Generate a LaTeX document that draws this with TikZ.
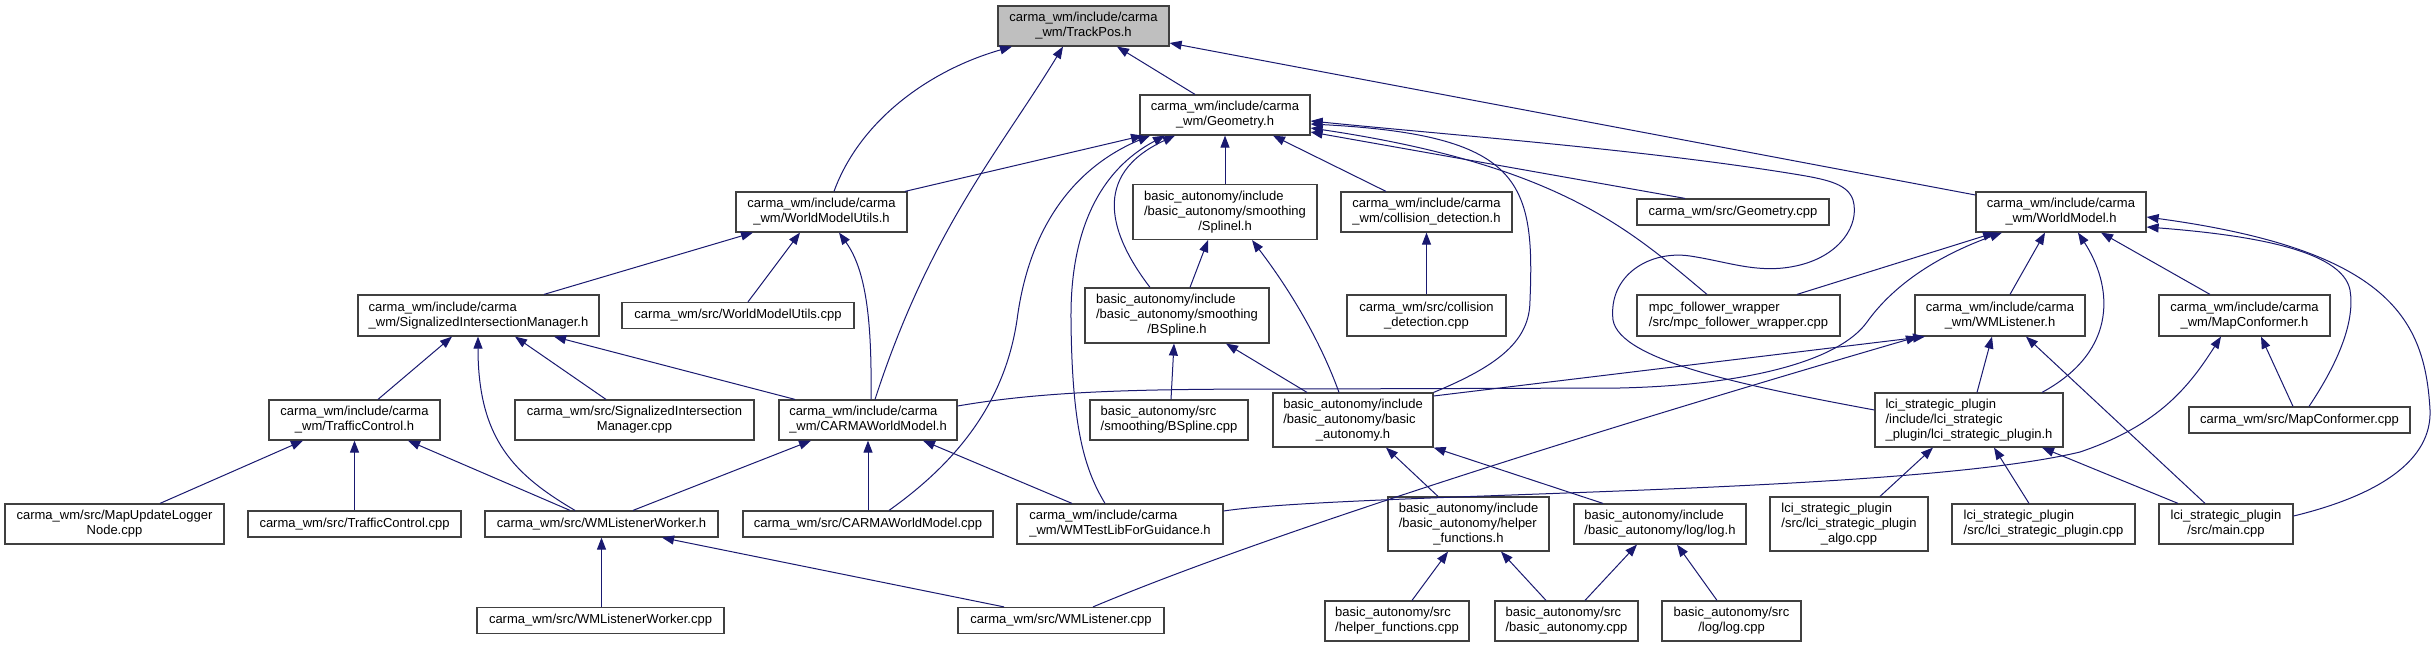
\documentclass[tikz,border=0pt]{standalone}
\usepackage{fontspec}
\setmainfont{Liberation Sans}
\usetikzlibrary{arrows.meta}
\definecolor{edgec}{HTML}{191970}
\definecolor{bord}{HTML}{404040}
\definecolor{hl}{HTML}{BFBFBF}
\newcommand{\mlab}[2]{\begin{tabular}{@{}l@{}}#1\\\multicolumn{1}{@{}c@{}}{#2}\end{tabular}}
\newcommand{\slab}[1]{\begin{tabular}{@{}c@{}}#1\end{tabular}}
\begin{document}
\begin{tikzpicture}[x=1pt,y=-1pt,
 box/.style={draw=bord,line width=1.2pt,fill=white,inner sep=0pt,font=\fontsize{13}{15}\selectfont},
 dep/.style={draw=edgec,line width=1pt,-{Triangle[length=12pt,width=9pt]}}]
\useasboundingbox[fill=white] (0,0) rectangle (2436,647);
% row 0
\node[box,fill=hl,minimum width=171pt,minimum height=40pt] (tp) at (1083.5,26) {\mlab{carma\_wm/include/carma}{\_wm/TrackPos.h}};
\node[box,minimum width=170pt,minimum height=40pt] (geo) at (1225,115) {\mlab{carma\_wm/include/carma}{\_wm/Geometry.h}};
% row 1
\node[box,minimum width=171pt,minimum height=40pt] (wmu) at (821.5,212) {\mlab{carma\_wm/include/carma}{\_wm/WorldModelUtils.h}};
\node[box,minimum width=184pt,minimum height=55pt] (spl) at (1225,212) {\mlab{basic\_autonomy/include\\/basic\_autonomy/smoothing}{/Splinel.h}};
\node[box,minimum width=171pt,minimum height=40pt] (cdh) at (1426.5,212) {\mlab{carma\_wm/include/carma}{\_wm/collision\_detection.h}};
\node[box,minimum width=192pt,minimum height=26pt] (gcpp) at (1733,212) {\slab{carma\_wm/src/Geometry.cpp}};
\node[box,minimum width=170pt,minimum height=40pt] (wm) at (2061,212) {\mlab{carma\_wm/include/carma}{\_wm/WorldModel.h}};
% row 2
\node[box,minimum width=241pt,minimum height=41pt] (sim) at (478.5,315.5) {\mlab{carma\_wm/include/carma}{\_wm/SignalizedIntersectionManager.h}};
\node[box,minimum width=232pt,minimum height=26pt] (wmucpp) at (738,315.5) {\slab{carma\_wm/src/WorldModelUtils.cpp}};
\node[box,minimum width=184pt,minimum height=55pt] (bsh) at (1177,315.5) {\mlab{basic\_autonomy/include\\/basic\_autonomy/smoothing}{/BSpline.h}};
\node[box,minimum width=159pt,minimum height=41pt] (cdcpp) at (1426.5,315.5) {\mlab{carma\_wm/src/collision}{\_detection.cpp}};
\node[box,minimum width=203pt,minimum height=41pt] (mpc) at (1738.5,315.5) {\mlab{mpc\_follower\_wrapper}{/src/mpc\_follower\_wrapper.cpp}};
\node[box,minimum width=170pt,minimum height=41pt] (wml) at (2000,315.5) {\mlab{carma\_wm/include/carma}{\_wm/WMListener.h}};
\node[box,minimum width=171pt,minimum height=41pt] (mch) at (2244.5,315.5) {\mlab{carma\_wm/include/carma}{\_wm/MapConformer.h}};
% row 3
\node[box,minimum width=171pt,minimum height=40pt] (tch) at (354.5,420) {\mlab{carma\_wm/include/carma}{\_wm/TrafficControl.h}};
\node[box,minimum width=239pt,minimum height=40pt] (simcpp) at (634.5,420) {\mlab{carma\_wm/src/SignalizedIntersection}{Manager.cpp}};
\node[box,minimum width=178pt,minimum height=40pt] (cwmh) at (868,420) {\mlab{carma\_wm/include/carma}{\_wm/CARMAWorldModel.h}};
\node[box,minimum width=158pt,minimum height=40pt] (bscpp) at (1169,420) {\mlab{basic\_autonomy/src}{/smoothing/BSpline.cpp}};
\node[box,minimum width=160pt,minimum height=54pt] (bah) at (1353,420) {\mlab{basic\_autonomy/include\\/basic\_autonomy/basic}{\_autonomy.h}};
\node[box,minimum width=188pt,minimum height=54pt] (lcih) at (1969,420) {\mlab{lci\_strategic\_plugin\\/include/lci\_strategic}{\_plugin/lci\_strategic\_plugin.h}};
\node[box,minimum width=221pt,minimum height=26pt] (mccpp) at (2299.5,420) {\slab{carma\_wm/src/MapConformer.cpp}};
% row 4
\node[box,minimum width=219pt,minimum height=40pt] (mul) at (114.5,524) {\mlab{carma\_wm/src/MapUpdateLogger}{Node.cpp}};
\node[box,minimum width=213pt,minimum height=26pt] (tccpp) at (354.5,524) {\slab{carma\_wm/src/TrafficControl.cpp}};
\node[box,minimum width=233pt,minimum height=26pt] (wlwh) at (601.5,524) {\slab{carma\_wm/src/WMListenerWorker.h}};
\node[box,minimum width=250pt,minimum height=26pt] (cwmcpp) at (868,524) {\slab{carma\_wm/src/CARMAWorldModel.cpp}};
\node[box,minimum width=206pt,minimum height=40pt] (wmt) at (1120,524) {\mlab{carma\_wm/include/carma}{\_wm/WMTestLibForGuidance.h}};
\node[box,minimum width=161pt,minimum height=54pt] (hfh) at (1468.5,524) {\mlab{basic\_autonomy/include\\/basic\_autonomy/helper}{\_functions.h}};
\node[box,minimum width=172pt,minimum height=40pt] (logh) at (1660,524) {\mlab{basic\_autonomy/include}{/basic\_autonomy/log/log.h}};
\node[box,minimum width=158pt,minimum height=54pt] (algo) at (1849,524) {\mlab{lci\_strategic\_plugin\\/src/lci\_strategic\_plugin}{\_algo.cpp}};
\node[box,minimum width=183pt,minimum height=40pt] (lcicpp) at (2043.5,524) {\mlab{lci\_strategic\_plugin}{/src/lci\_strategic\_plugin.cpp}};
\node[box,minimum width=134pt,minimum height=40pt] (main) at (2226,524) {\mlab{lci\_strategic\_plugin}{/src/main.cpp}};
% row 5
\node[box,minimum width=247pt,minimum height=26pt] (wlwcpp) at (600.5,620.5) {\slab{carma\_wm/src/WMListenerWorker.cpp}};
\node[box,minimum width=206pt,minimum height=26pt] (wmlcpp) at (1061,620.5) {\slab{carma\_wm/src/WMListener.cpp}};
\node[box,minimum width=144pt,minimum height=40pt] (hfcpp) at (1397,621) {\mlab{basic\_autonomy/src}{/helper\_functions.cpp}};
\node[box,minimum width=143pt,minimum height=40pt] (bacpp) at (1566.5,621) {\mlab{basic\_autonomy/src}{/basic\_autonomy.cpp}};
\node[box,minimum width=139pt,minimum height=40pt] (logcpp) at (1731.5,621) {\mlab{basic\_autonomy/src}{/log/log.cpp}};
% ---- edges: TrackPos
\draw[dep] ([xshift=12.5pt]wmu.north) .. controls (860,120) and (930,70) .. ([xshift=-71.5pt]tp.south);
\draw[dep] ([xshift=7pt]cwmh.north) .. controls (930,230) and (1000,150) .. ([xshift=-20.5pt]tp.south);
\draw[dep] ([xshift=-30pt]geo.north) -- ([xshift=33.5pt]tp.south);
\draw[dep] ([yshift=17pt]wm.west) -- ([yshift=-17pt]tp.east);
% Geometry
\draw[dep] ([xshift=83.5pt]wmu.north) -- ([xshift=-82pt]geo.south);
\draw[dep] ([xshift=21pt]cwmcpp.north) .. controls (960,460) and (1005,400) .. (1017,320) .. controls (1030,220) and (1080,165) .. ([xshift=-75pt]geo.south);
\draw[dep] ([xshift=-15pt]wmt.north) .. controls (1085,470) and (1072,430) .. (1071,320) .. controls (1070,230) and (1100,170) .. ([xshift=-60pt]geo.south);
\draw[dep] ([xshift=-27pt]bsh.north) .. controls (1110,235) and (1090,175) .. ([xshift=-50pt]geo.south);
\draw[dep] (spl.north) -- (geo.south);
\draw[dep] ([xshift=-40.5pt]cdh.north) -- ([xshift=48pt]geo.south);
\draw[dep] (bah.north east) .. controls (1500,365) and (1530,340) .. (1530,300) .. controls (1535,180) and (1520,135) .. ([yshift=-9pt]geo.east);
\draw[dep] ([xshift=-48pt]gcpp.north) -- ([yshift=-17pt]geo.east);
\draw[dep] ([xshift=-31.5pt]mpc.north) .. controls (1630,230) and (1560,165) .. ([yshift=-13pt]geo.east);
\draw[dep] ([yshift=10pt]lcih.west) .. controls (1740,385) and (1620,360) .. (1613,320) .. controls (1608,275) and (1650,250) .. (1690,256) .. controls (1730,262) and (1760,275) .. (1800,265) .. controls (1840,255) and (1860,225) .. (1853,200) .. controls (1848,185) and (1830,180) .. (1800,175) .. controls (1650,150) and (1450,135) .. ([yshift=-6pt]geo.east);
% WorldModelUtils
\draw[dep] ([xshift=65.5pt]sim.north) -- ([xshift=-68.5pt]wmu.south);
\draw[dep] ([xshift=10pt]wmucpp.north) -- ([xshift=-21.5pt]wmu.south);
\draw[dep] ([xshift=3pt]cwmh.north) .. controls (872,320) and (866,270) .. ([xshift=17.5pt]wmu.south);
% Splinel / collision
\draw[dep] ([xshift=13pt]bsh.north) -- ([xshift=-17pt]spl.south);
\draw[dep] ([xshift=-14pt]bah.north) .. controls (1320,340) and (1290,290) .. ([xshift=27pt]spl.south);
\draw[dep] (cdcpp.north) -- (cdh.south);
% WorldModel
\draw[dep] ([xshift=58.5pt]mpc.north) -- ([xshift=-66pt]wm.south);
\draw[dep] ([yshift=14pt]cwmh.east) .. controls (1050,390) and (1150,389) .. (1300,389) -- (1620,388) .. controls (1750,385) and (1840,360) .. (1867,322) .. controls (1895,283) and (1940,255) .. ([xshift=-59pt]wm.south);
\draw[dep] ([xshift=10pt]wml.north) -- ([xshift=-16pt]wm.south);
\draw[dep] ([xshift=73pt]lcih.north) .. controls (2120,350) and (2112,285) .. ([xshift=17pt]wm.south);
\draw[dep] ([xshift=-34.5pt]mch.north) -- ([xshift=40pt]wm.south);
\draw[dep] ([xshift=9.5pt]mccpp.north) .. controls (2340,360) and (2355,320) .. (2350,290) .. controls (2342,250) and (2250,235) .. ([yshift=-15pt]wm.east);
\draw[dep] ([yshift=8pt]main.east) .. controls (2380,495) and (2432,460) .. (2430,410) .. controls (2425,320) and (2390,250) .. ([yshift=-5pt]wm.east);
% SignalizedIntersectionManager
\draw[dep] ([xshift=23.5pt]tch.north) -- ([xshift=-26.5pt]sim.south);
\draw[dep] ([xshift=-26.5pt]wlwh.north) .. controls (515,475) and (478,440) .. ([xshift=-0.5pt]sim.south);
\draw[dep] ([xshift=-28.5pt]simcpp.north) -- ([xshift=36.5pt]sim.south);
\draw[dep] ([xshift=-73pt]cwmh.north) -- ([xshift=75.5pt]sim.south);
% BSpline.h
\draw[dep] ([xshift=2pt]bscpp.north) -- ([xshift=-3pt]bsh.south);
\draw[dep] ([xshift=-46pt]bah.north) -- ([xshift=49pt]bsh.south);
% TrafficControl.h
\draw[dep] ([xshift=45.5pt]mul.north) -- ([xshift=-51.5pt]tch.south);
\draw[dep] (tccpp.north) -- (tch.south);
\draw[dep] ([xshift=-31.5pt]wlwh.north) -- ([xshift=53.5pt]tch.south);
% CARMAWorldModel.h
\draw[dep] ([xshift=31.5pt]wlwh.north) -- ([xshift=-57pt]cwmh.south);
\draw[dep] (cwmcpp.north) -- (cwmh.south);
\draw[dep] ([xshift=-48pt]wmt.north) -- ([xshift=55pt]cwmh.south);
% WMListener.h
\draw[dep] ([yshift=24pt]bah.east) -- ([xshift=-75pt]wml.south);
\draw[dep] ([xshift=32pt]wmlcpp.north) .. controls (1300,520) and (1700,400) .. ([xshift=-82pt]wml.south);
\draw[dep] ([xshift=8pt]lcih.north) -- ([xshift=-8pt]wml.south);
\draw[dep] ([xshift=-21pt]main.north) -- ([xshift=26pt]wml.south);
% MapConformer.h
\draw[dep] ([xshift=-6.5pt]mccpp.north) -- ([xshift=16.5pt]mch.south);
\draw[dep] ([yshift=13pt]wmt.east) .. controls (1350,492) and (1900,495) .. (2080,452) .. controls (2160,425) and (2190,385) .. ([xshift=-23.5pt]mch.south);
% lci_strategic_plugin.h
\draw[dep] ([xshift=31pt]algo.north) -- ([xshift=-36pt]lcih.south);
\draw[dep] ([xshift=-14.5pt]lcicpp.north) -- ([xshift=25pt]lcih.south);
\draw[dep] ([xshift=-48pt]main.north) -- ([xshift=73pt]lcih.south);
% basic_autonomy.h
\draw[dep] ([xshift=-30.5pt]hfh.north) -- ([xshift=33pt]bah.south);
\draw[dep] ([xshift=-57pt]logh.north) -- (bah.south east);
% WMListenerWorker.h
\draw[dep] ([xshift=1pt]wlwcpp.north) -- (wlwh.south);
\draw[dep] ([xshift=-57pt]wmlcpp.north) -- ([xshift=60.5pt]wlwh.south);
% helper_functions.h
\draw[dep] ([xshift=15pt]hfcpp.north) -- ([xshift=-20.5pt]hfh.south);
\draw[dep] ([xshift=-20.5pt]bacpp.north) -- ([xshift=32.5pt]hfh.south);
% log.h
\draw[dep] ([xshift=18.5pt]bacpp.north) -- ([xshift=-23pt]logh.south);
\draw[dep] ([xshift=-14.5pt]logcpp.north) -- ([xshift=17pt]logh.south);
\end{tikzpicture}
\end{document}
